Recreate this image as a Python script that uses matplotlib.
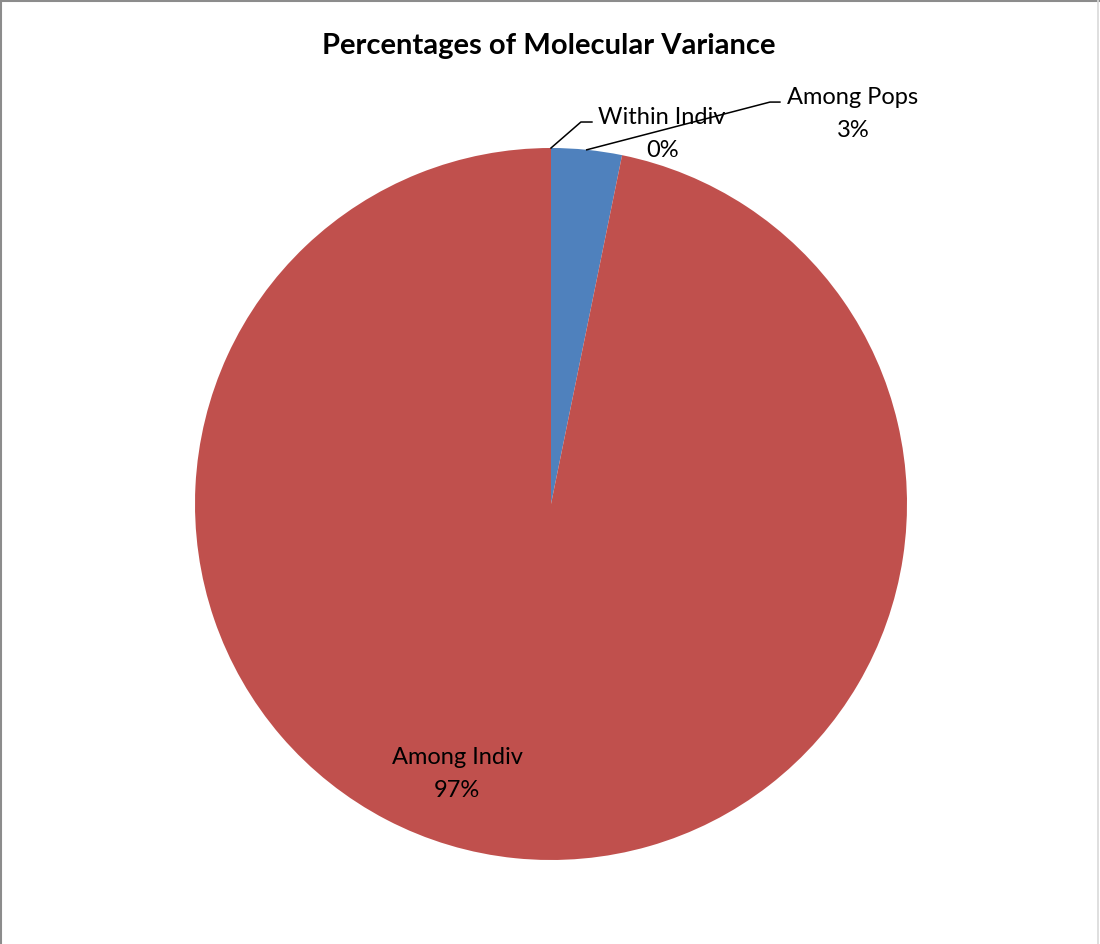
import matplotlib
matplotlib.use('Agg')
import matplotlib.pyplot as plt
import numpy as np
from matplotlib.lines import Line2D

plt.rcParams['font.family'] = ['Lato', 'DejaVu Sans']

# AMOVA components, clockwise from 12 o'clock
categories = ['Among Pops', 'Among Indiv', 'Within Indiv']
percents = [3.2, 96.8, 0.0]
colors = ['#4F81BD', '#C0504D', '#9BBB59']

fig = plt.figure(figsize=(11, 9.45), dpi=100)

# pie axes sized so the circle sits in the middle of the chart area
cx, cy, r = 551 / 1100, 1 - 505 / 945, 356
ax = fig.add_axes([cx - r / 1100, cy - r / 945, 2 * r / 1100, 2 * r / 945])
wedges, _ = ax.pie(percents, colors=colors, startangle=90, counterclock=False,
                   radius=1, wedgeprops=dict(linewidth=0))
ax.set_xlim(-1, 1)
ax.set_ylim(-1, 1)
ax.set_aspect('equal')
ax.axis('off')

fig.text(0.499, 1 - 46 / 945, 'Percentages of Molecular Variance',
         ha='center', va='center', fontsize=21, fontweight='bold')

def lbl(i):
    return f'{categories[i]}\n{percents[i]:.0f}%'

def mid_point(w):
    a = np.deg2rad((w.theta1 + w.theta2) / 2)
    return np.cos(a), np.sin(a)

# outside labels with elbow leader lines
outside = {0: ((0.848, 1.099), (0.615, 1.129), (0.643, 1.129)),
           2: ((0.312, 1.041), (0.084, 1.073), (0.115, 1.073))}
for i, (txt_pos, elbow, end) in outside.items():
    x0, y0 = mid_point(wedges[i])
    ax.plot([x0, elbow[0], end[0]], [y0, elbow[1], end[1]], color='black',
            lw=1.1, clip_on=False)
    ax.text(txt_pos[0], txt_pos[1], lbl(i), ha='center', va='center',
            fontsize=17, linespacing=1.7, clip_on=False)

# inside label for the big slice
ax.text(-0.264, -0.755, lbl(1), ha='center', va='center', fontsize=17,
        linespacing=1.7)

# chart frame
fig.add_artist(Line2D([0, 1], [0.998, 0.998], transform=fig.transFigure,
                      color='#8c8c8c', lw=1.5))
fig.add_artist(Line2D([0.001, 0.001], [0, 1], transform=fig.transFigure,
                      color='#8c8c8c', lw=1.5))
fig.add_artist(Line2D([0.9985, 0.9985], [0, 1], transform=fig.transFigure,
                      color='#d9d9d9', lw=1.2))

fig.savefig('out.png', dpi=100, facecolor='white')
